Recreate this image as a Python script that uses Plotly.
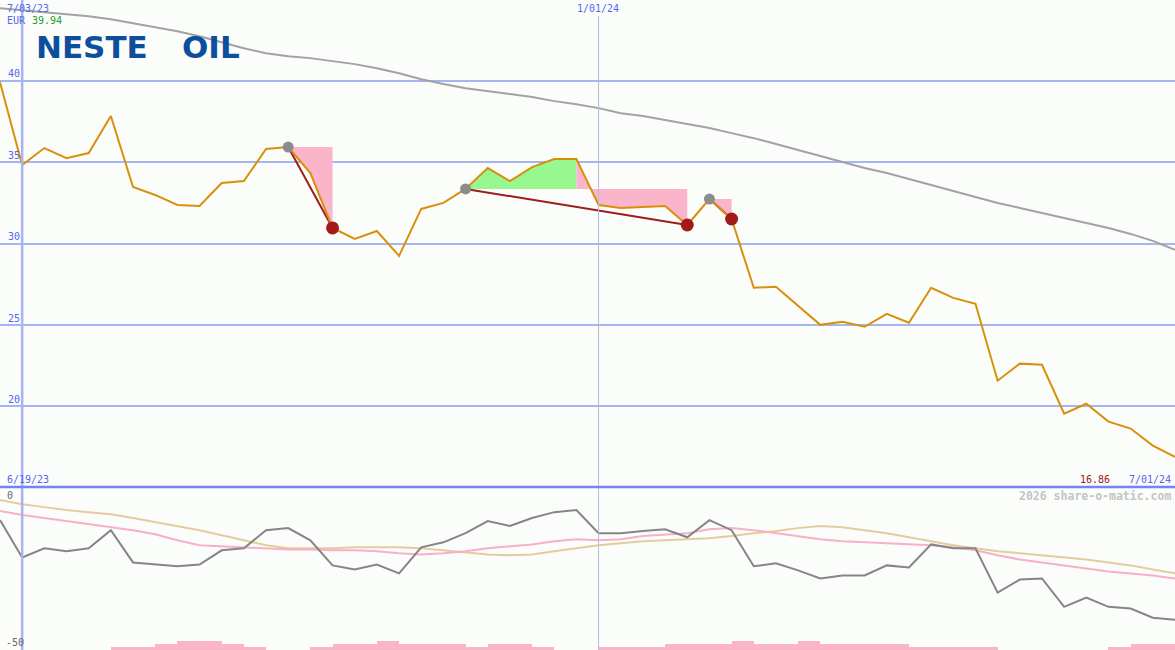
import pandas as pd
import plotly.graph_objects as go

# ---------------- data ----------------
start_week = "2023-06-26"
n_weeks = 54
weeks = list(pd.date_range(start_week, periods=n_weeks, freq="7D"))

price = [39.94, 34.83, 35.88, 35.26, 35.57, 37.85, 33.48, 32.99, 32.37, 32.31,
         33.73, 33.85, 35.82, 35.94, 34.34, 30.96, 30.28, 30.77, 29.24, 32.13,
         32.50, 33.36, 34.65, 33.85, 34.71, 35.20, 35.20, 32.37, 32.19, 32.25,
         32.31, 31.14, 32.74, 31.51, 27.27, 27.33, 26.16, 24.99, 25.18, 24.87,
         25.67, 25.12, 27.27, 26.65, 26.29, 21.55, 22.60, 22.53, 19.52, 20.13,
         19.03, 18.60, 17.55, 16.86]

ma_long = [44.49, 44.37, 44.24, 44.12, 44.00, 43.81, 43.57, 43.32, 43.08, 42.77,
           42.40, 42.03, 41.72, 41.54, 41.42, 41.23, 41.05, 40.80, 40.49, 40.12,
           39.82, 39.57, 39.38, 39.20, 39.02, 38.77, 38.58, 38.34, 38.03, 37.85,
           37.60, 37.35, 37.11, 36.80, 36.49, 36.13, 35.76, 35.39, 35.02, 34.65,
           34.34, 33.97, 33.60, 33.23, 32.87, 32.50, 32.19, 31.88, 31.57, 31.27,
           30.96, 30.59, 30.16, 29.61]

osc = [-8.5, -21.1, -18.0, -19.0, -18.0, -11.9, -22.8, -23.5, -24.1, -23.5,
       -18.7, -18.0, -11.9, -11.2, -15.3, -23.8, -25.2, -23.5, -26.5, -17.7,
       -16.0, -12.9, -8.8, -10.5, -7.8, -5.8, -5.1, -12.9, -12.9, -12.2,
       -11.6, -14.3, -8.5, -11.9, -24.1, -23.1, -25.5, -28.2, -27.2, -27.2,
       -23.8, -24.5, -16.7, -18.0, -18.0, -33.0, -28.6, -28.2, -37.8, -34.7,
       -37.8, -38.4, -41.5, -42.2]

osc_fast = [-5.4, -6.8, -7.8, -8.8, -9.9, -10.9, -11.9, -13.3, -15.3, -17.0,
            -17.3, -17.7, -18.0, -18.4, -18.4, -18.7, -18.7, -19.0, -19.7, -20.1,
            -19.7, -19.0, -18.0, -17.3, -16.7, -15.6, -15.0, -15.3, -15.0, -13.9,
            -13.3, -12.9, -11.6, -11.2, -11.9, -12.9, -13.9, -15.0, -15.6, -16.0,
            -16.3, -16.7, -17.0, -17.7, -18.7, -20.4, -21.8, -22.8, -23.8, -24.8,
            -25.9, -26.5, -27.2, -28.2]

osc_slow = [-1.7, -3.1, -4.1, -5.1, -5.8, -6.5, -7.8, -9.2, -10.5, -11.9,
            -13.6, -15.3, -17.0, -18.0, -18.0, -18.0, -17.7, -17.7, -17.7, -18.0,
            -18.7, -19.4, -20.1, -20.4, -20.1, -19.0, -18.0, -17.0, -16.3, -15.6,
            -15.3, -15.0, -14.6, -13.9, -12.9, -12.2, -11.2, -10.5, -10.9, -11.9,
            -12.9, -14.3, -15.6, -17.0, -18.0, -19.0, -19.7, -20.4, -21.1, -21.8,
            -22.8, -23.8, -25.2, -26.5]

# weekly volume (relative units), one per interval between weeks
volume = [0, 0, 0, 0, 0, 1, 1, 2, 3, 3, 2, 1, 0, 0, 1, 2, 2, 3, 2, 2,
          2, 1, 2, 2, 1, 0, 0, 1, 1, 1, 2, 2, 2, 3, 2, 2, 3, 2, 2, 2,
          2, 1, 1, 1, 1, 0, 0, 0, 0, 0, 1, 2, 2]

entry_idx = [13, 21, 32]
exit_idx = [15, 31, 33]
# (first week, last week, week giving the reference level, kind)
shade_segments = [(13, 15, 13, "loss"), (21, 26, 21, "gain"),
                  (26, 31, 21, "loss"), (32, 33, 32, "loss")]

currency = "EUR"
first_value = "39.94"
last_value = "16.86"
price_ticks = [20, 25, 30, 35, 40]
osc_ticks = [0, -50]
label_start = "6/19/23"
label_first = "7/03/23"
label_mid = "1/01/24"
label_end = "7/01/24"
mid_date = "2024-01-01"
first_axis_date = "2023-07-03"
end_date = "2024-07-01"

# ---------------- styles ----------------
W, H = 1175, 650
BG = "#fbfdfb"
BLUE_TXT = "#5566ee"
GRID = "#a6b4f2"
PINK = "#fbb5cb"
GREEN = "#98f890"
FONT = "DejaVu Sans Mono"
split = 163 / 650  # bottom panel fraction


def px(x, y):
    return x / W, 1 - y / H


fig = go.Figure()

# volume bars (bottom panel, own axis)
mids = [w + pd.Timedelta(days=3.5) for w in weeks[:-1]]
fig.add_trace(go.Bar(x=mids, y=volume, width=7 * 86400000, marker_color=PINK,
                     marker_line_width=0, yaxis="y3", xaxis="x", showlegend=False,
                     hoverinfo="skip"))

# shaded signal regions
for s, e, lv, kind in shade_segments:
    level = price[lv]
    xs = [weeks[s]] + weeks[s:e + 1] + [weeks[e]]
    ys = [level] + price[s:e + 1] + [level]
    fig.add_trace(go.Scatter(x=xs, y=ys, fill="toself", mode="lines",
                             line=dict(width=0), fillcolor=GREEN if kind == "gain" else PINK,
                             showlegend=False, hoverinfo="skip"))

# long moving average
fig.add_trace(go.Scatter(x=weeks, y=ma_long, mode="lines",
                         line=dict(color="#a2a2a2", width=2), showlegend=False))

# trade lines
for a, b in zip(entry_idx, exit_idx):
    fig.add_trace(go.Scatter(x=[weeks[a], weeks[b]], y=[price[a], price[b]], mode="lines",
                             line=dict(color="#9e1c1c", width=2), showlegend=False))

# price
fig.add_trace(go.Scatter(x=weeks, y=price, mode="lines",
                         line=dict(color="#d8900c", width=2), showlegend=False))

# markers
fig.add_trace(go.Scatter(x=[weeks[i] for i in entry_idx], y=[price[i] for i in entry_idx],
                         mode="markers", marker=dict(color="#8c8c8c", size=11),
                         showlegend=False))
fig.add_trace(go.Scatter(x=[weeks[i] for i in exit_idx], y=[price[i] for i in exit_idx],
                         mode="markers", marker=dict(color="#a31a1a", size=13),
                         showlegend=False))

# bottom panel lines
fig.add_trace(go.Scatter(x=weeks, y=osc_slow, mode="lines", yaxis="y2",
                         line=dict(color="#e4cc9c", width=2), showlegend=False))
fig.add_trace(go.Scatter(x=weeks, y=osc_fast, mode="lines", yaxis="y2",
                         line=dict(color="#f8b0c8", width=2), showlegend=False))
fig.add_trace(go.Scatter(x=weeks, y=osc, mode="lines", yaxis="y2",
                         line=dict(color="#858585", width=2), showlegend=False))

# ---------------- layout ----------------
fig.update_layout(
    width=W, height=H, margin=dict(l=0, r=0, t=0, b=0),
    paper_bgcolor=BG, plot_bgcolor=BG,
    xaxis=dict(range=[weeks[0], end_date], visible=False, anchor="y2"),
    yaxis=dict(domain=[split, 1], range=[15, 45], tickvals=price_ticks,
               showticklabels=False, showgrid=True, gridcolor=GRID, gridwidth=2,
               zeroline=False, showline=False),
    yaxis2=dict(domain=[0, split], range=[-52.4, 2.7], showgrid=False,
                showticklabels=False, zeroline=False, anchor="x"),
    yaxis3=dict(overlaying="y2", range=[0, 163 / 3], visible=False, anchor="x"),
    bargap=0,
    showlegend=False,
)

shapes = []
# left date line and 1/01/24 line
shapes.append(dict(type="line", xref="x", yref="paper", x0=first_axis_date, x1=first_axis_date,
                   y0=0, y1=1, line=dict(color="#a6b4f2", width=2.5)))
shapes.append(dict(type="line", xref="x", yref="paper", x0=mid_date, x1=mid_date,
                   y0=0, y1=1 - 16 / H, line=dict(color="#b4bcd8", width=1)))
# panel separator
shapes.append(dict(type="line", xref="paper", yref="paper", x0=0, x1=1,
                   y0=split, y1=split, line=dict(color="#7484f0", width=2.5)))
fig.update_layout(shapes=shapes)

ann = []


def text(t, x, y, color, size=10, anchor="left", bold=False, fam=FONT):
    ax, ay = px(x, y)
    ann.append(dict(text=t, x=ax, y=ay, xref="paper", yref="paper", showarrow=False,
                    xanchor=anchor, yanchor="middle",
                    font=dict(family=fam, size=size, color=color,
                              weight="bold" if bold else "normal")))


text(label_first, 5, 8, BLUE_TXT)
text(currency, 5, 20, BLUE_TXT)
text(first_value, 30, 20, "#22a022")
text(label_mid, 598, 9, BLUE_TXT, anchor="center")
tick_y = {40: 74, 35: 155, 30: 237, 25: 318, 20: 399}
for v in price_ticks:
    text(str(v), 6, tick_y[v], BLUE_TXT)
text(label_start, 5, 479, BLUE_TXT)
text(last_value, 1112, 479, "#9a1a1a", anchor="right")
text(label_end, 1173, 479, BLUE_TXT, anchor="right")
text("2026 share-o-matic.com", 1173, 496, "#c4c4c4", size=11.5, anchor="right", bold=True)
text(str(osc_ticks[0]), 5, 495, "#666666")
text(str(osc_ticks[1]), 4, 642, "#666666")
# logo
text("NESTE", 34, 47, "#0d4f9c", size=31, bold=True, fam="DejaVu Sans")
text("OIL", 180, 47, "#0d4f9c", size=31, bold=True, fam="DejaVu Sans")
fig.update_layout(annotations=ann)

fig.write_html("out.html", config={"displayModeBar": False},
               post_script="document.body.style.margin='0';")
